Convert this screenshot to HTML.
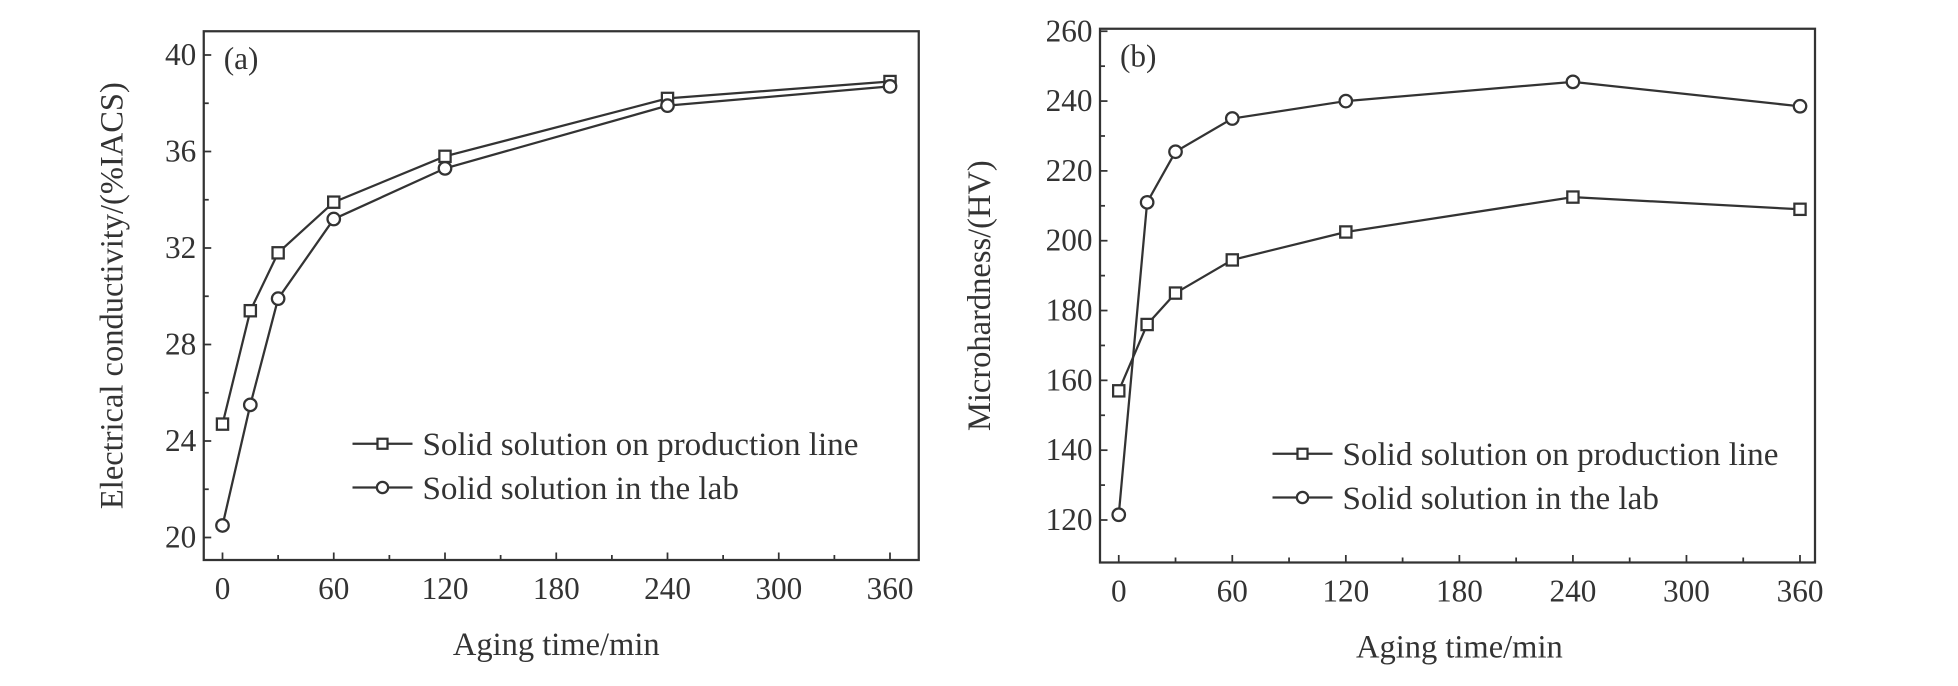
<!DOCTYPE html>
<html><head><meta charset="utf-8"><style>
body{margin:0;background:#fff}
svg text{font-family:"Liberation Serif",serif;fill:#333}
</style></head><body>
<svg id="s" width="1958" height="681" viewBox="0 0 1958 681"><g id="root" transform="scale(1.25)"></g></svg>
<script>
const times=[0,15,30,60,120,240,360];
const condProd=[24.7,29.4,31.8,33.9,35.8,38.2,38.9];
const condLab=[20.5,25.5,29.9,33.2,35.3,37.9,38.7];
const hardProd=[157,176,185,194.5,202.5,212.5,209];
const hardLab=[121.5,211,225.5,235,240,245.5,238.5];
const xTicks=[0,60,120,180,240,300,360];
const condTicks=[20,24,28,32,36,40];
const hardTicks=[120,140,160,180,200,220,240,260];
const legendLabels=["Solid solution on production line","Solid solution in the lab"];
const NS="http://www.w3.org/2000/svg";
const svg=document.getElementById('root');
function mk(tag,attrs,parent,text){const e=document.createElementNS(NS,tag);for(const k in attrs)e.setAttribute(k,attrs[k]);if(text!==undefined)e.textContent=text;(parent||svg).appendChild(e);return e;}
const C="#333";
function panel(cfg){
  const g=mk('g',{});
  
  
  const xs=v=>cfg.x0+(v-0)/360*(cfg.x360-cfg.x0);
  const ys=v=>cfg.yA+(v-cfg.vA)/(cfg.vB-cfg.vA)*(cfg.yB-cfg.yA);
  const f=mk('rect',{x:cfg.L,y:cfg.T,width:cfg.R-cfg.L,height:cfg.B-cfg.T,fill:'none',stroke:C,'stroke-width':1.8},g);
  
  cfg.yt.forEach((v,i)=>{const y=ys(v);
    mk('line',{x1:cfg.L,x2:cfg.L+6,y1:y,y2:y,stroke:C,'stroke-width':1.4},g);
    const t=mk('text',{x:cfg.L-6,y:y+8,'text-anchor':'end','font-size':25},g,v);
    
    if(i<cfg.yt.length-1){const ym=ys((v+cfg.yt[i+1])/2);mk('line',{x1:cfg.L,x2:cfg.L+4,y1:ym,y2:ym,stroke:C,'stroke-width':1.4},g);}
  });
  xTicks.forEach((v,i)=>{const x=xs(v);
    mk('line',{x1:x,x2:x,y1:cfg.B,y2:cfg.B-6,stroke:C,'stroke-width':1.4},g);
    const t=mk('text',{x:x,y:cfg.B+31,'text-anchor':'middle','font-size':25},g,v);
    
    if(i<xTicks.length-1){const xm=xs(v+30);mk('line',{x1:xm,x2:xm,y1:cfg.B,y2:cfg.B-4,stroke:C,'stroke-width':1.4},g);}
  });
  const xt=mk('text',{x:(cfg.x0+cfg.x360)/2,y:cfg.B+76,'text-anchor':'middle','font-size':26},g,'Aging time/min');
  
  const yt=mk('text',{x:0,y:0,'text-anchor':'middle','font-size':26,transform:`translate(${cfg.ytx},${(cfg.T+cfg.B)/2}) rotate(-90)`},g,cfg.ytitle);
  
  const pl=mk('text',{x:cfg.L+16,y:cfg.T+30,'font-size':25},g,cfg.lab);
  
  [[cfg.prod,'sq'],[cfg.labd,'ci']].forEach(([d,m],si)=>{
    const pts=d.map((v,i)=>xs(times[i])+','+ys(v)).join(' ');
    const pl=mk('polyline',{points:pts,fill:'none',stroke:C,'stroke-width':1.8},g);
    
    
    d.forEach((v,i)=>{const x=xs(times[i]),y=ys(v);let e;
      if(m==='sq')e=mk('rect',{x:x-4.5,y:y-4.5,width:9,height:9,fill:'#fff',stroke:C,'stroke-width':1.8},g);
      else e=mk('circle',{cx:x,cy:y,r:5,fill:'#fff',stroke:C,'stroke-width':1.8},g);
      
      });
  });
  legendLabels.forEach((lbl,i)=>{const y=cfg.legY+i*35;
    const lg=mk('g',{},g);
    
    mk('line',{x1:cfg.legX,x2:cfg.legX+48,y1:y,y2:y,stroke:C,'stroke-width':1.8},lg);
    if(i===0)mk('rect',{x:cfg.legX+20,y:y-4,width:8,height:8,fill:'#fff',stroke:C,'stroke-width':1.8},lg);
    else mk('circle',{cx:cfg.legX+24,cy:y,r:4.5,fill:'#fff',stroke:C,'stroke-width':1.8},lg);
    mk('text',{x:cfg.legX+56,y:y+9,'font-size':26.5},lg,lbl);
  });
}
panel({name:'panel-a-conductivity',L:163,R:735,T:25,B:448,x0:178,x360:712,vA:40,yA:44,vB:20,yB:430,yt:condTicks,prod:condProd,labd:condLab,ytitle:'Electrical conductivity/(%IACS)',ytx:98,lab:'(a)',legX:282,legY:355});
panel({name:'panel-b-microhardness',L:880,R:1452,T:23,B:450,x0:895,x360:1440,vA:260,yA:25,vB:120,yB:416,yt:hardTicks,prod:hardProd,labd:hardLab,ytitle:'Microhardness/(HV)',ytx:792,lab:'(b)',legX:1018,legY:363});
</script>
</body></html>
